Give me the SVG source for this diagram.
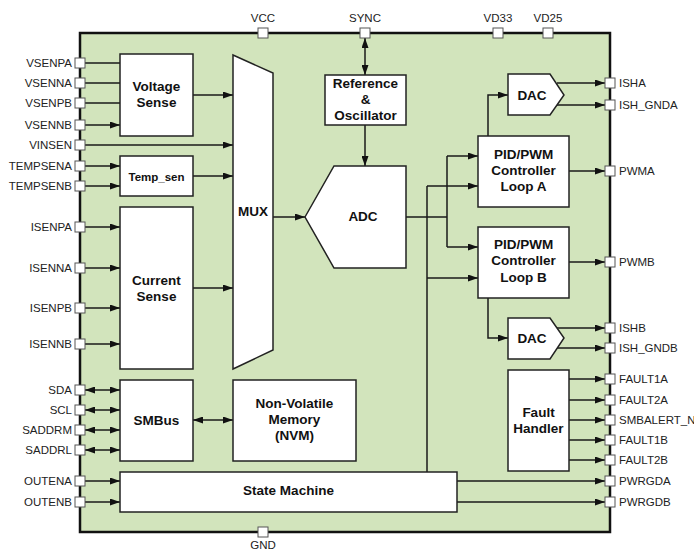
<svg xmlns="http://www.w3.org/2000/svg" width="694" height="550" viewBox="0 0 694 550">
<style>
.bd{fill:#d2e4bc;stroke:#111;stroke-width:2.5}
.bx{fill:#fff;stroke:#222;stroke-width:1.5}
.w{fill:none;stroke:#1a1a1a;stroke-width:1.5}
.a{marker-end:url(#ah)}
.b{marker-start:url(#ah);marker-end:url(#ah)}
.pin{fill:#fff;stroke:#555;stroke-width:1}
.t{font-family:"Liberation Sans",Arial,sans-serif;font-weight:bold;font-size:13.5px;fill:#111;text-anchor:middle}
.pl{font-family:"Liberation Sans",Arial,sans-serif;font-size:11.5px;fill:#222;text-anchor:end}
.pr{font-family:"Liberation Sans",Arial,sans-serif;font-size:11.5px;fill:#222;text-anchor:start}
.pt{font-family:"Liberation Sans",Arial,sans-serif;font-size:11.5px;fill:#222;text-anchor:middle}
</style>
<defs>
<marker id="ah" viewBox="0 0 10 7" refX="10" refY="3.5" markerWidth="10" markerHeight="7" markerUnits="userSpaceOnUse" orient="auto-start-reverse"><path d="M0,0 L10,3.5 L0,7 z" fill="#111"/></marker>
</defs>
<rect id="chip" class="bd" x="80" y="33" width="530" height="499"/>
<g id="connectors">
<path class="w a" d="M85,63H120M85,83H120M85,103H120M85,125H120"/>
<path class="w a" d="M85,145H233"/>
<path class="w a" d="M85,166H120"/>
<path class="w a" d="M85,186H120"/>
<path class="w a" d="M85,227H120"/>
<path class="w a" d="M85,268H120"/>
<path class="w a" d="M85,308H120"/>
<path class="w a" d="M85,344H120"/>
<path class="w b" d="M85,390H120"/>
<path class="w b" d="M85,410H120"/>
<path class="w b" d="M85,430H120"/>
<path class="w b" d="M85,450H120"/>
<path class="w a" d="M85,481H120"/>
<path class="w a" d="M85,502H120"/>
<path class="w a" d="M193,95H233"/>
<path class="w a" d="M193,176H233"/>
<path class="w a" d="M193,288H233"/>
<path class="w a" d="M273,217H305"/>
<path class="w b" d="M193,420H233"/>
<path class="w b" d="M365,38V75"/>
<path class="w a" d="M365,125V166"/>
<path class="w" d="M406,217H447M447,156V247"/>
<path class="w a" d="M447,156H478"/>
<path class="w a" d="M447,247H478"/>
<path class="w" d="M427,186V472"/>
<path class="w a" d="M427,186H478"/>
<path class="w a" d="M427,278H478"/>
<path class="w a" d="M488,136V95H508"/>
<path class="w a" d="M557,83H605"/>
<path class="w a" d="M557,105H605"/>
<path class="w a" d="M569,171H605"/>
<path class="w a" d="M569,262H605"/>
<path class="w a" d="M488,298V338H508"/>
<path class="w a" d="M557,328H605"/>
<path class="w a" d="M557,348H605"/>
<path class="w a" d="M569,379H605"/>
<path class="w a" d="M569,400H605"/>
<path class="w a" d="M569,420H605"/>
<path class="w a" d="M569,440H605"/>
<path class="w a" d="M569,460H605"/>
<path class="w a" d="M457,481H605"/>
<path class="w a" d="M457,502H605"/>
</g>
<g id="voltage-sense"><rect class="bx" x="120" y="54" width="73" height="82"/><text class="t" x="156.5" y="91">Voltage</text><text class="t" x="156.5" y="107">Sense</text></g>
<g id="temp-sen"><rect class="bx" x="120" y="156" width="73" height="40"/><text class="t" x="156.5" y="181" style="font-size:11.5px">Temp_sen</text></g>
<g id="current-sense"><rect class="bx" x="120" y="207" width="73" height="162"/><text class="t" x="156.5" y="285">Current</text><text class="t" x="156.5" y="301">Sense</text></g>
<g id="smbus"><rect class="bx" x="120" y="380" width="73" height="81"/><text class="t" x="156.5" y="425">SMBus</text></g>
<g id="nvm"><rect class="bx" x="233" y="380" width="123" height="81"/><text class="t" x="294.5" y="408">Non-Volatile</text><text class="t" x="294.5" y="424">Memory</text><text class="t" x="294.5" y="440">(NVM)</text></g>
<g id="state-machine"><rect class="bx" x="120" y="472" width="337" height="40"/><text class="t" x="288.5" y="495">State Machine</text></g>
<g id="mux"><path class="bx" d="M233,55L273,73V350L233,369Z"/><text class="t" x="253" y="216">MUX</text></g>
<g id="ref-osc"><rect class="bx" x="325" y="75" width="81" height="50"/><text class="t" x="365.5" y="88">Reference</text><text class="t" x="365.5" y="104">&amp;</text><text class="t" x="365.5" y="120">Oscillator</text></g>
<g id="adc"><path class="bx" d="M305,217L334,166H406V268H334Z"/><text class="t" x="363" y="221">ADC</text></g>
<g id="pid-a"><rect class="bx" x="478" y="136" width="91" height="71"/><text class="t" x="523.5" y="159">PID/PWM</text><text class="t" x="523.5" y="175">Controller</text><text class="t" x="523.5" y="191">Loop A</text></g>
<g id="pid-b"><rect class="bx" x="478" y="227" width="91" height="71"/><text class="t" x="523.5" y="249">PID/PWM</text><text class="t" x="523.5" y="265">Controller</text><text class="t" x="523.5" y="282">Loop B</text></g>
<g id="dac-a"><path class="bx" d="M508,74H550L564,95L550,115H508Z"/><text class="t" x="532" y="100">DAC</text></g>
<g id="dac-b"><path class="bx" d="M508,318H550L564,338L550,359H508Z"/><text class="t" x="532" y="343">DAC</text></g>
<g id="fault-handler"><rect class="bx" x="508" y="370" width="61" height="101"/><text class="t" x="538.5" y="417">Fault</text><text class="t" x="538.5" y="433">Handler</text></g>
<g id="pins">
<g id="pins-left">
<rect class="pin" x="75" y="58" width="10" height="10"/><text class="pl" x="72" y="67">VSENPA</text>
<rect class="pin" x="75" y="78" width="10" height="10"/><text class="pl" x="72" y="87">VSENNA</text>
<rect class="pin" x="75" y="98" width="10" height="10"/><text class="pl" x="72" y="107">VSENPB</text>
<rect class="pin" x="75" y="120" width="10" height="10"/><text class="pl" x="72" y="129">VSENNB</text>
<rect class="pin" x="75" y="140" width="10" height="10"/><text class="pl" x="72" y="149">VINSEN</text>
<rect class="pin" x="75" y="161" width="10" height="10"/><text class="pl" x="72" y="170">TEMPSENA</text>
<rect class="pin" x="75" y="181" width="10" height="10"/><text class="pl" x="72" y="190">TEMPSENB</text>
<rect class="pin" x="75" y="222" width="10" height="10"/><text class="pl" x="72" y="231">ISENPA</text>
<rect class="pin" x="75" y="263" width="10" height="10"/><text class="pl" x="72" y="272">ISENNA</text>
<rect class="pin" x="75" y="303" width="10" height="10"/><text class="pl" x="72" y="312">ISENPB</text>
<rect class="pin" x="75" y="339" width="10" height="10"/><text class="pl" x="72" y="348">ISENNB</text>
<rect class="pin" x="75" y="385" width="10" height="10"/><text class="pl" x="72" y="394">SDA</text>
<rect class="pin" x="75" y="405" width="10" height="10"/><text class="pl" x="72" y="414">SCL</text>
<rect class="pin" x="75" y="425" width="10" height="10"/><text class="pl" x="72" y="434">SADDRM</text>
<rect class="pin" x="75" y="445" width="10" height="10"/><text class="pl" x="72" y="454">SADDRL</text>
<rect class="pin" x="75" y="476" width="10" height="10"/><text class="pl" x="72" y="485">OUTENA</text>
<rect class="pin" x="75" y="497" width="10" height="10"/><text class="pl" x="72" y="506">OUTENB</text>
</g>
<g id="pins-top">
<rect class="pin" x="258" y="28" width="10" height="10"/><text class="pt" x="263" y="22">VCC</text>
<rect class="pin" x="360" y="28" width="10" height="10"/><text class="pt" x="365" y="22">SYNC</text>
<rect class="pin" x="493" y="28" width="10" height="10"/><text class="pt" x="498" y="22">VD33</text>
<rect class="pin" x="543" y="28" width="10" height="10"/><text class="pt" x="548" y="22">VD25</text>
</g>
<g id="pins-bottom">
<rect class="pin" x="258" y="527" width="10" height="10"/><text class="pt" x="263" y="549">GND</text>
</g>
<g id="pins-right">
<rect class="pin" x="605" y="78" width="10" height="10"/><text class="pr" x="619" y="87">ISHA</text>
<rect class="pin" x="605" y="100" width="10" height="10"/><text class="pr" x="619" y="109">ISH_GNDA</text>
<rect class="pin" x="605" y="166" width="10" height="10"/><text class="pr" x="619" y="175">PWMA</text>
<rect class="pin" x="605" y="257" width="10" height="10"/><text class="pr" x="619" y="266">PWMB</text>
<rect class="pin" x="605" y="323" width="10" height="10"/><text class="pr" x="619" y="332">ISHB</text>
<rect class="pin" x="605" y="343" width="10" height="10"/><text class="pr" x="619" y="352">ISH_GNDB</text>
<rect class="pin" x="605" y="374" width="10" height="10"/><text class="pr" x="619" y="383">FAULT1A</text>
<rect class="pin" x="605" y="395" width="10" height="10"/><text class="pr" x="619" y="404">FAULT2A</text>
<rect class="pin" x="605" y="415" width="10" height="10"/><text class="pr" x="619" y="424">SMBALERT_N</text>
<rect class="pin" x="605" y="435" width="10" height="10"/><text class="pr" x="619" y="444">FAULT1B</text>
<rect class="pin" x="605" y="455" width="10" height="10"/><text class="pr" x="619" y="464">FAULT2B</text>
<rect class="pin" x="605" y="476" width="10" height="10"/><text class="pr" x="619" y="485">PWRGDA</text>
<rect class="pin" x="605" y="497" width="10" height="10"/><text class="pr" x="619" y="506">PWRGDB</text>
</g>
</g>
</svg>
